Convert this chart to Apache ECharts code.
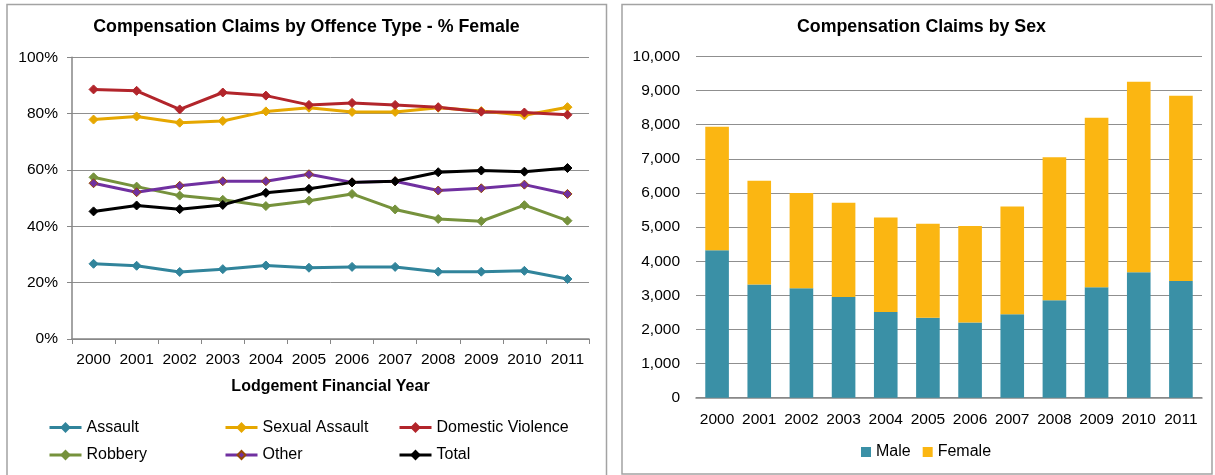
<!DOCTYPE html>
<html>
<head>
<meta charset="utf-8">
<script src="https://cdn.jsdelivr.net/npm/echarts@6/dist/echarts.min.js"></script>
<style>
  html, body { margin: 0; padding: 0; background: #ffffff; }
  #chart { width: 1215px; height: 475px; }
</style>
</head>
<body>
<div id="chart"></div>
<script>
// Lodgement financial years
const years = ['2000', '2001', '2002', '2003', '2004', '2005', '2006', '2007', '2008', '2009', '2010', '2011'];

// % female of compensation claims, by offence type
const assault          = [26.7, 26.0, 23.8, 24.8, 26.1, 25.3, 25.6, 25.6, 23.9, 23.9, 24.2, 21.3];
const sexualAssault    = [77.9, 79.0, 76.8, 77.4, 80.8, 82.1, 80.6, 80.6, 82.1, 80.9, 79.4, 82.3];
const domesticViolence = [88.6, 88.1, 81.5, 87.5, 86.4, 83.1, 83.8, 83.1, 82.3, 80.7, 80.4, 79.6];
const robbery          = [57.4, 54.1, 50.9, 49.4, 47.2, 49.1, 51.5, 46.0, 42.6, 41.8, 47.5, 42.0];
const other            = [55.3, 52.1, 54.4, 56.0, 56.0, 58.5, 55.6, 56.0, 52.7, 53.5, 54.8, 51.5];
const total            = [45.3, 47.4, 46.1, 47.6, 51.9, 53.3, 55.6, 56.0, 59.2, 59.8, 59.4, 60.7];

// Number of compensation claims, by sex
const male   = [4320, 3315, 3210, 2955, 2515, 2340, 2205, 2445, 2855, 3235, 3675, 3420];
const female = [3620, 3040, 2790, 2760, 2770, 2760, 2825, 3160, 4195, 4970, 5585, 5430];

const FONT = '"Liberation Sans", Arial, sans-serif';
const AXIS_GREY = '#868686';
const GRID_GREY = '#8f8f8f';

function withCommas(v) {
  return String(v).replace(/\B(?=(\d{3})+(?!\d))/g, ',');
}

function lineSeries(name, data, color, borderColor) {
  return {
    name: name,
    type: 'line',
    xAxisIndex: 0,
    yAxisIndex: 0,
    data: data,
    symbol: 'diamond',
    symbolSize: 9,
    showSymbol: true,
    lineStyle: { color: color, width: 3 },
    itemStyle: { color: color, borderColor: borderColor || color, borderWidth: 1 },
    emphasis: { disabled: true },
    animation: false
  };
}

// One legend block per entry so each sits in its own column/row
function legendItem(name, left, top) {
  return {
    data: [name],
    left: left,
    top: top,
    padding: 0,
    orient: 'horizontal',
    itemWidth: 32,
    itemHeight: 10,
    selectedMode: false,
    lineStyle: { width: 3 },
    textStyle: { fontFamily: FONT, fontSize: 16, color: '#000000' }
  };
}

const chart = echarts.init(document.getElementById('chart'), null, { renderer: 'canvas' });

const option = {
  backgroundColor: '#ffffff',
  animation: false,
  textStyle: { fontFamily: FONT },
  graphic: [
    // panel frames
    { type: 'rect', shape: { x: 7, y: 4.5, width: 599.5, height: 480 },
      style: { fill: 'none', stroke: '#a3a3a3', lineWidth: 1.5 }, silent: true, z: 0 },
    { type: 'rect', shape: { x: 622, y: 4.5, width: 590, height: 469.5 },
      style: { fill: 'none', stroke: '#a3a3a3', lineWidth: 1.5 }, silent: true, z: 0 },
    // panel titles
    { type: 'text', x: 306.5, y: 27.5, silent: true,
      style: { text: 'Compensation Claims by Offence Type - % Female', fill: '#000000',
               font: 'bold 17.8px ' + FONT, textAlign: 'center', textVerticalAlign: 'middle' } },
    { type: 'text', x: 921.5, y: 27.5, silent: true,
      style: { text: 'Compensation Claims by Sex', fill: '#000000',
               font: 'bold 17.8px ' + FONT, textAlign: 'center', textVerticalAlign: 'middle' } }
  ],
  legend: [
    legendItem('Assault', 48, 419.5),
    legendItem('Sexual Assault', 224, 419.5),
    legendItem('Domestic Violence', 398, 419.5),
    legendItem('Robbery', 48, 447),
    legendItem('Other', 224, 447),
    legendItem('Total', 398, 447),
    {
      data: [
        { name: 'Male', icon: 'rect' },
        { name: 'Female', icon: 'rect' }
      ],
      left: 861,
      top: 444,
      padding: 0,
      itemWidth: 10,
      itemHeight: 10,
      itemGap: 12,
      selectedMode: false,
      textStyle: { fontFamily: FONT, fontSize: 16, color: '#000000' }
    }
  ],
  grid: [
    { left: 72, right: 626, top: 57.3, bottom: 136, containLabel: false },
    { left: 696, right: 13, top: 56.5, bottom: 77.3, containLabel: false }
  ],
  xAxis: [
    {
      gridIndex: 0,
      type: 'category',
      data: years,
      boundaryGap: true,
      name: 'Lodgement Financial Year',
      nameLocation: 'middle',
      nameGap: 40,
      nameTextStyle: { fontFamily: FONT, fontSize: 16, fontWeight: 'bold', color: '#000000' },
      axisLine: { show: true, lineStyle: { color: AXIS_GREY, width: 1.5 } },
      axisTick: { show: true, inside: false, length: 5, lineStyle: { color: AXIS_GREY, width: 1 } },
      axisLabel: { fontFamily: FONT, fontSize: 15.5, color: '#000000', margin: 13, interval: 0 },
      splitLine: { show: false }
    },
    {
      gridIndex: 1,
      type: 'category',
      data: years,
      boundaryGap: true,
      axisLine: { show: true, lineStyle: { color: AXIS_GREY, width: 1.5 } },
      axisTick: { show: false },
      axisLabel: { fontFamily: FONT, fontSize: 15.5, color: '#000000', margin: 14, interval: 0 },
      splitLine: { show: false }
    }
  ],
  yAxis: [
    {
      gridIndex: 0,
      type: 'value',
      min: 0,
      max: 100,
      interval: 20,
      axisLine: { show: true, lineStyle: { color: AXIS_GREY, width: 1.5 } },
      axisTick: { show: true, inside: false, length: 5, lineStyle: { color: AXIS_GREY, width: 1 } },
      axisLabel: { fontFamily: FONT, fontSize: 15.5, color: '#000000', margin: 14,
                   formatter: '{value}%' },
      splitLine: { show: true, lineStyle: { color: GRID_GREY, width: 1 } }
    },
    {
      gridIndex: 1,
      type: 'value',
      min: 0,
      max: 10000,
      interval: 1000,
      axisLine: { show: false },
      axisTick: { show: false },
      axisLabel: { fontFamily: FONT, fontSize: 15.5, color: '#000000', margin: 16,
                   formatter: withCommas },
      splitLine: { show: true, lineStyle: { color: GRID_GREY, width: 1 } }
    }
  ],
  series: [
    lineSeries('Assault', assault, '#31849B'),
    lineSeries('Sexual Assault', sexualAssault, '#E6A700'),
    lineSeries('Domestic Violence', domesticViolence, '#B2252B'),
    lineSeries('Robbery', robbery, '#76923C'),
    lineSeries('Other', other, '#7030A0', '#984807'),
    lineSeries('Total', total, '#000000'),
    {
      name: 'Male',
      type: 'bar',
      xAxisIndex: 1,
      yAxisIndex: 1,
      stack: 'claims',
      data: male,
      barWidth: '56%',
      itemStyle: { color: '#3A90A6' },
      emphasis: { disabled: true }
    },
    {
      name: 'Female',
      type: 'bar',
      xAxisIndex: 1,
      yAxisIndex: 1,
      stack: 'claims',
      data: female,
      barWidth: '56%',
      itemStyle: { color: '#FBB612' },
      emphasis: { disabled: true }
    }
  ]
};

chart.setOption(option);
</script>
</body>
</html>
